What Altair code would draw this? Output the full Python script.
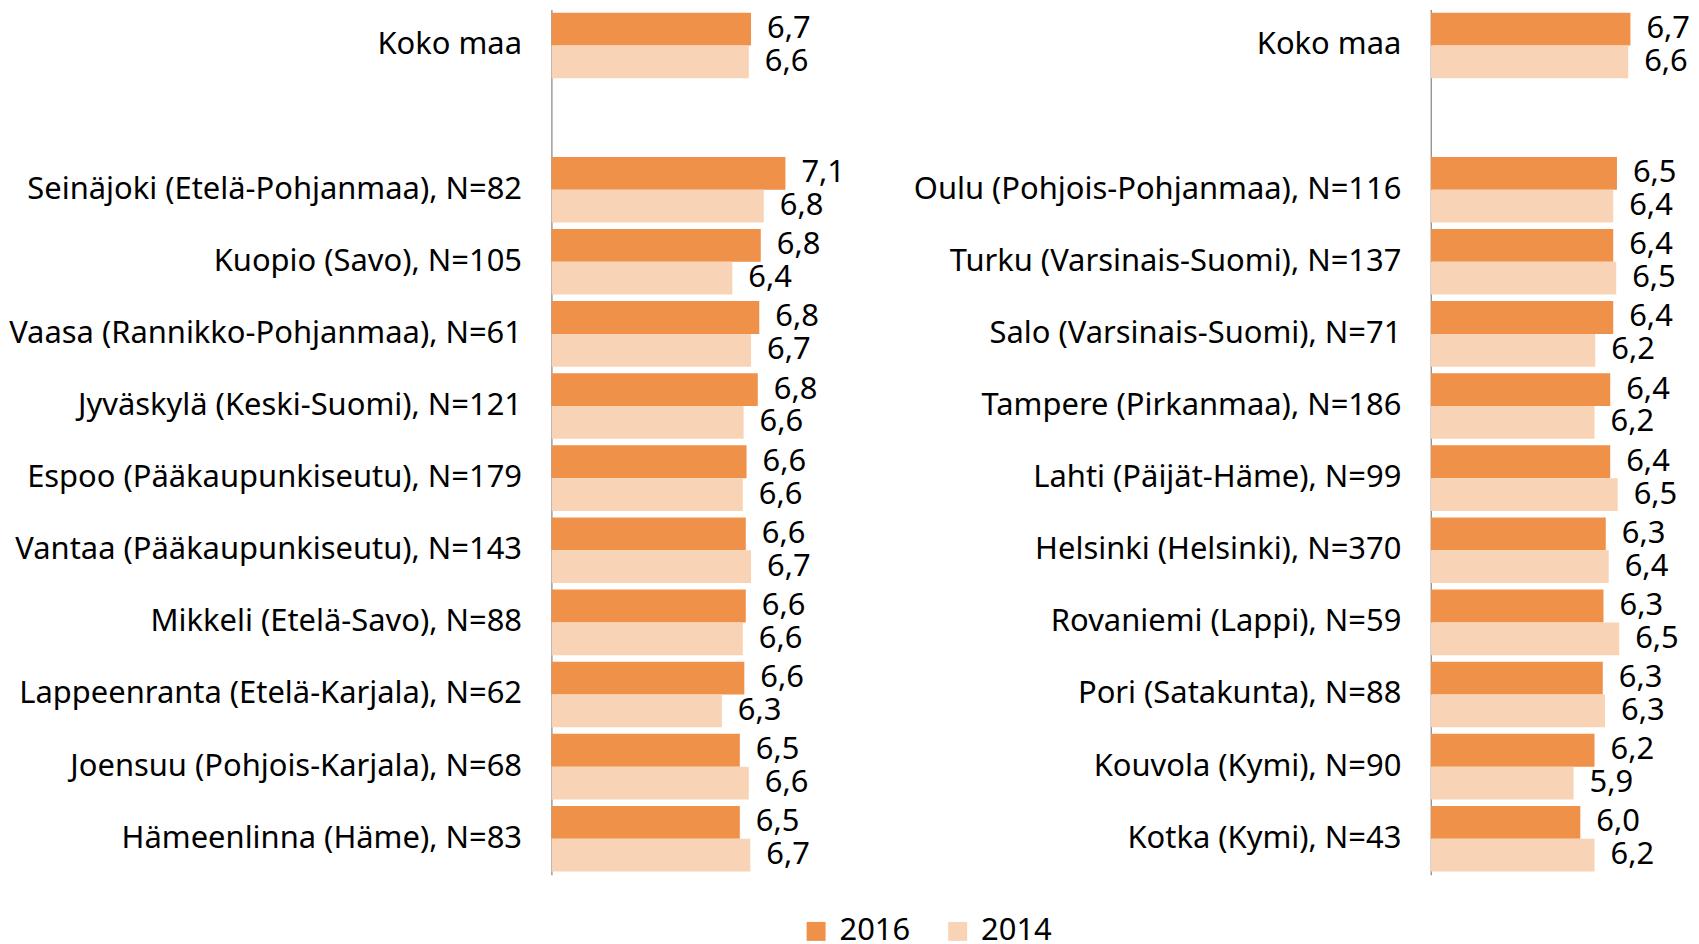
import altair as alt
import pandas as pd

years = ["2016", "2014"]
colors = ["#F0914A", "#F8D3B5"]

koko_label = "Koko maa"
koko_2016 = 6.67
koko_2014 = 6.64

left_cities = [
    "Seinäjoki (Etelä-Pohjanmaa), N=82",
    "Kuopio (Savo), N=105",
    "Vaasa (Rannikko-Pohjanmaa), N=61",
    "Jyväskylä (Keski-Suomi), N=121",
    "Espoo (Pääkaupunkiseutu), N=179",
    "Vantaa (Pääkaupunkiseutu), N=143",
    "Mikkeli (Etelä-Savo), N=88",
    "Lappeenranta (Etelä-Karjala), N=62",
    "Joensuu (Pohjois-Karjala), N=68",
    "Hämeenlinna (Häme), N=83",
]
left_2016 = [7.13, 6.80, 6.78, 6.76, 6.61, 6.60, 6.60, 6.58, 6.52, 6.52]
left_2014 = [6.84, 6.42, 6.67, 6.57, 6.56, 6.67, 6.56, 6.28, 6.64, 6.66]

right_cities = [
    "Oulu (Pohjois-Pohjanmaa), N=116",
    "Turku (Varsinais-Suomi), N=137",
    "Salo (Varsinais-Suomi), N=71",
    "Tampere (Pirkanmaa), N=186",
    "Lahti (Päijät-Häme), N=99",
    "Helsinki (Helsinki), N=370",
    "Rovaniemi (Lappi), N=59",
    "Pori (Satakunta), N=88",
    "Kouvola (Kymi), N=90",
    "Kotka (Kymi), N=43",
]
right_2016 = [6.49, 6.44, 6.44, 6.40, 6.40, 6.34, 6.31, 6.30, 6.19, 6.00]
right_2014 = [6.44, 6.48, 6.20, 6.19, 6.50, 6.38, 6.52, 6.33, 5.91, 6.19]

FONT = "Noto Sans"
FS = 31
PX_PER_UNIT = 75
XMIN = 4


def build_df(cities, v16, v14):
    rows = [
        {"city": koko_label, "year": "2016", "value": koko_2016},
        {"city": koko_label, "year": "2014", "value": koko_2014},
    ]
    for c, a, b in zip(cities, v16, v14):
        rows.append({"city": c, "year": "2016", "value": a})
        rows.append({"city": c, "year": "2014", "value": b})
    return pd.DataFrame(rows)


def panel(cities, v16, v14, width, extent, show_legend):
    df = build_df(cities, v16, v14)
    domain = [koko_label, " "] + cities
    xmax = XMIN + width / PX_PER_UNIT
    xscale = alt.Scale(domain=[XMIN, xmax], zero=False, nice=False)
    x = alt.X("value:Q", scale=xscale, axis=None, stack=None)
    y = alt.Y(
        "city:N",
        scale=alt.Scale(domain=domain, paddingInner=0.09, paddingOuter=0.045),
        axis=alt.Axis(
            title=None,
            ticks=False,
            labelPadding=30,
            labelFont=FONT,
            labelFontSize=FS,
            labelColor="#000000",
            labelLimit=1000,
            domainColor="#8c8c8c",
            domainWidth=1.3,
            minExtent=extent,
            maxExtent=extent,
        ),
    )
    yoff = alt.YOffset("year:N", sort=years, scale=alt.Scale(domain=years, paddingInner=0, paddingOuter=0))
    if show_legend:
        legend = alt.Legend(
            title=None,
            orient="none",
            legendX=250,
            legendY=909,
            direction="horizontal",
            symbolType="square",
            symbolSize=361,
            symbolStrokeWidth=0,
            symbolOpacity=1,
            labelFont=FONT,
            labelFontSize=FS,
            labelColor="#000000",
            labelOffset=8,
            columnPadding=32,
        )
    else:
        legend = None
    color = alt.Color(
        "year:N",
        sort=years,
        scale=alt.Scale(domain=years, range=colors),
        legend=legend,
    )
    bars = alt.Chart(df).mark_bar(opacity=1, clip=True).encode(
        x=x, x2=alt.datum(XMIN), y=y, yOffset=yoff, color=color
    )
    labels = (
        alt.Chart(df)
        .transform_calculate(label="replace(format(datum.value, '.1f'), '.', ',')")
        .mark_text(align="left", baseline="middle", dx=16, font=FONT, fontSize=FS, color="#000000")
        .encode(x=x, y=y, yOffset=yoff, text="label:N")
    )
    return (bars + labels).properties(width=width, height=868)


left = panel(left_cities, left_2016, left_2014, 330, 540, True)
right = panel(right_cities, right_2016, right_2014, 260, 540, False)

chart = (
    alt.hconcat(left, right, spacing=12)
    .resolve_scale(color="shared")
    .properties(padding=0)
    .configure_view(stroke=None)
)

chart.save("out.html", embed_options={"renderer": "svg", "actions": False})
